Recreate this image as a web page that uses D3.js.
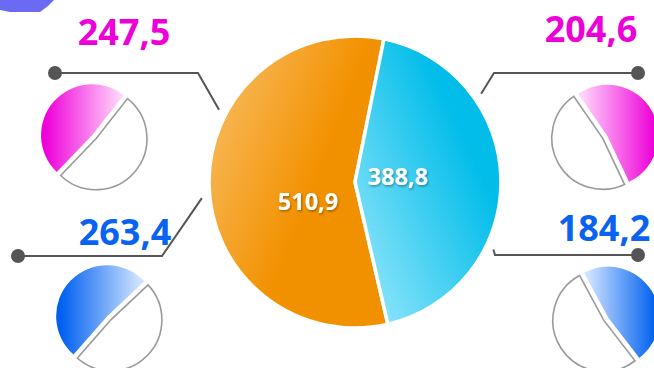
<!DOCTYPE html>
<html>
<head>
<meta charset="utf-8">
<script src="https://cdn.jsdelivr.net/npm/d3@7"></script>
<style>
  html, body { margin: 0; padding: 0; background: #fff; }
  svg { display: block; font-family: "Open Sans", "Noto Sans", sans-serif; }
</style>
</head>
<body>
<svg width="654" height="368"></svg>
<script>
// main pie: two categories
const mainNames = ["orange", "blue"];
const mainValues = [510.9, 388.8];
const mainLabels = ["510,9", "388,8"];

// detail pies: value shown against its parent slice
const subValues = [247.5, 263.4, 204.6, 184.2];
const subParents = [0, 0, 1, 1];
const subLabels = ["247,5", "263,4", "204,6", "184,2"];

let svg = d3.select("svg"),
  width = +svg.attr("width"),
  height = +svg.attr("height");

const deg = Math.PI / 180;
const cx = 355, cy = 182, R = 146;

let defs = svg.append("defs");

// gradients
function linGrad(id, x1, y1, x2, y2, stops) {
  let g = defs.append("linearGradient").attr("id", id)
    .attr("x1", x1).attr("y1", y1).attr("x2", x2).attr("y2", y2);
  stops.forEach(function (s) {
    g.append("stop").attr("offset", s[0]).attr("stop-color", s[1]);
  });
}
linGrad("gOrange", 0, 0.05, 0.62, 0.45, [[0, "#f9c06a"], [1, "#f29100"]]);
linGrad("gBlue", 0.1, 0.95, 0.75, 0.35, [[0, "#8fe5fb"], [1, "#02bde9"]]);
linGrad("gMagL", 0, 0, 1, 0, [[0.05, "#ee00d8"], [0.95, "#ffd4fb"]]);
linGrad("gMagR", 0, 0, 1, 0, [[0.05, "#ffd4fb"], [0.95, "#ee00d8"]]);
linGrad("gBluL", 0, 0, 1, 0, [[0.05, "#0060f0"], [0.95, "#cfe3ff"]]);
linGrad("gBluR", 0, 0, 1, 0, [[0.05, "#cfe3ff"], [0.95, "#0060f0"]]);

let shadow = defs.append("filter").attr("id", "txtShadow")
  .attr("x", "-20%").attr("y", "-20%").attr("width", "140%").attr("height", "150%");
shadow.append("feDropShadow").attr("dx", 1).attr("dy", 1.5)
  .attr("stdDeviation", 1).attr("flood-color", "#000").attr("flood-opacity", 0.35);

let blur = defs.append("filter").attr("id", "blur");
blur.append("feGaussianBlur").attr("stdDeviation", 0.7);

// little shape in the corner
svg.append("path")
  .attr("d", "M0,0 L54,0 L48,6 L40,12 L10,12 L0,10 Z")
  .attr("fill", "#6a6af2")
  .attr("filter", "url(#blur)");

// main pie
let pie = d3.pie().sort(null).value(function (d) { return d; })
  .startAngle(167 * deg).endAngle(527 * deg);
let arcs = pie(mainValues);
let arc = d3.arc().innerRadius(0).outerRadius(R);

let mainG = svg.append("g").attr("transform", "translate(" + cx + "," + cy + ")");
mainG.selectAll("path")
  .data(arcs)
  .enter()
  .append("path")
  .attr("d", arc)
  .attr("fill", function (d, i) { return i === 0 ? "url(#gOrange)" : "url(#gBlue)"; })
  .attr("stroke", "#fff")
  .attr("stroke-width", 3.5)
  .attr("stroke-linejoin", "miter");

const mainLabelOffset = [[-47, 20], [43, -5]];
mainG.selectAll("text")
  .data(arcs)
  .enter()
  .append("text")
  .attr("x", function (d, i) { return mainLabelOffset[i][0]; })
  .attr("y", function (d, i) { return mainLabelOffset[i][1]; })
  .attr("dy", "0.36em")
  .attr("text-anchor", "middle")
  .attr("fill", "#fff")
  .attr("font-size", 23.5)
  .attr("font-weight", 700)
  .attr("filter", "url(#txtShadow)")
  .text(function (d, i) { return mainLabels[i]; });

// layout of the four detail pies (positions only)
const subLayout = [
  { x: 94, y: 137, mid: -49, fill: "url(#gMagL)", color: "#ee00d8", lx: 124, ly: 45,
    dot: [55, 73], elbow: [198, 73], ang: 298 },
  { x: 109, y: 318, mid: -46, fill: "url(#gBluL)", color: "#0a62f0", lx: 125, ly: 245,
    dot: [18, 256], elbow: [162, 256], ang: 264 },
  { x: 605, y: 137, mid: 60, fill: "url(#gMagR)", color: "#ee00d8", lx: 591, ly: 42,
    dot: [638, 73], elbow: [494, 73], ang: 55 },
  { x: 606, y: 319, mid: 57, fill: "url(#gBluR)", color: "#0a62f0", lx: 604, ly: 241,
    dot: [638, 255], elbow: [495, 255], ang: 116 },
];

const r = 51, gap = 2.6;
let subArc = d3.arc().innerRadius(0).outerRadius(r);

subValues.forEach(function (v, i) {
  let L = subLayout[i];
  let total = mainValues[subParents[i]];
  let span = (v / total) * 360;
  let a0 = (L.mid - span / 2) * deg, a1 = (L.mid + span / 2) * deg;

  // leader line
  let endR = R + 8;
  let ex = cx + endR * Math.sin(L.ang * deg), ey = cy - endR * Math.cos(L.ang * deg);
  svg.append("polyline")
    .attr("points", [L.dot, L.elbow, [ex, ey]].map(function (p) { return p.join(","); }).join(" "))
    .attr("fill", "none")
    .attr("stroke", "#555")
    .attr("stroke-width", 2);
  svg.append("circle")
    .attr("cx", L.dot[0]).attr("cy", L.dot[1]).attr("r", 7)
    .attr("fill", "#555");

  let g = svg.append("g").attr("transform", "translate(" + L.x + "," + L.y + ")");
  let slices = [
    { startAngle: a0, endAngle: a1, filled: true },
    { startAngle: a1, endAngle: a0 + 2 * Math.PI, filled: false },
  ];
  g.selectAll("path")
    .data(slices)
    .enter()
    .append("path")
    .attr("d", subArc)
    .attr("transform", function (d) {
      let m = (d.startAngle + d.endAngle) / 2;
      return "translate(" + gap * Math.sin(m) + "," + -gap * Math.cos(m) + ")";
    })
    .attr("fill", function (d) { return d.filled ? L.fill : "#fff"; })
    .attr("stroke", function (d) { return d.filled ? "none" : "#9a9a9a"; })
    .attr("stroke-width", 1.6);

  svg.append("text")
    .attr("x", L.lx).attr("y", L.ly)
    .attr("text-anchor", "middle")
    .attr("fill", L.color)
    .attr("font-size", 36)
    .attr("font-weight", 700)
    .text(subLabels[i]);
});
</script>
</body>
</html>
